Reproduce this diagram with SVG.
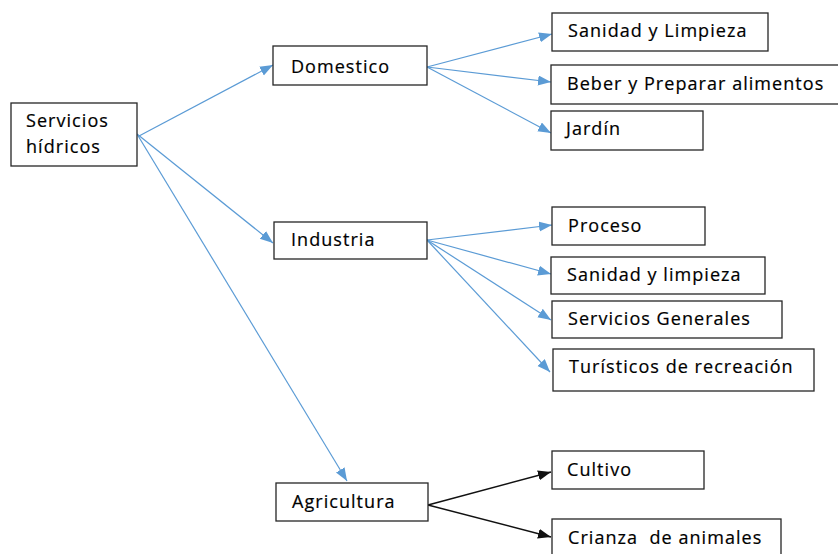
<svg xmlns="http://www.w3.org/2000/svg" width="838" height="554" viewBox="0 0 838 554">
<style>
.box{fill:#fff;stroke:#262626;stroke-width:1.3}
.t{font-family:"Open Sans","Noto Sans",sans-serif;font-size:18px;letter-spacing:1.05px;fill:#000;stroke:#000;stroke-width:0.2}
.blue{stroke:#5B9BD5;stroke-width:1.2;fill:none;marker-end:url(#ab)}
.blk{stroke:#111;stroke-width:1.5;fill:none;marker-end:url(#ak)}
</style>
<defs>
<marker id="ab" markerUnits="userSpaceOnUse" markerWidth="14" markerHeight="12" refX="13" refY="5" orient="auto"><path d="M0,0 L13,5 L0,10 Z" fill="#5B9BD5"/></marker>
<marker id="ak" markerUnits="userSpaceOnUse" markerWidth="14" markerHeight="12" refX="13" refY="5" orient="auto"><path d="M0,0 L13,5 L0,10 Z" fill="#111"/></marker>
</defs>
<rect width="838" height="554" fill="#fff"/>
<g id="connectors">
<line class="blue" x1="139" y1="136" x2="273" y2="65"/>
<line class="blue" x1="137" y1="134" x2="273" y2="243"/>
<line class="blue" x1="137" y1="134" x2="347" y2="481"/>
<line class="blue" x1="427" y1="67" x2="552" y2="34"/>
<line class="blue" x1="427" y1="67" x2="551" y2="82"/>
<line class="blue" x1="427" y1="67" x2="551" y2="133"/>
<line class="blue" x1="427" y1="240" x2="552" y2="225"/>
<line class="blue" x1="427" y1="240" x2="551" y2="274"/>
<line class="blue" x1="427" y1="240" x2="551" y2="320"/>
<line class="blue" x1="427" y1="240" x2="550" y2="372"/>
<line class="blk" x1="428" y1="505" x2="551" y2="472"/>
<line class="blk" x1="428" y1="505" x2="551" y2="537"/>
</g>
<g id="servicios"><rect class="box" x="11" y="103" width="126" height="63"/><text class="t" x="26" y="127">Servicios</text><text class="t" x="26" y="153">hídricos</text></g>
<g id="domestico"><rect class="box" x="273" y="46" width="154" height="39"/><text class="t" x="291" y="73">Domestico</text></g>
<g id="sanidad1"><rect class="box" x="552" y="13" width="216" height="38"/><text class="t" x="568" y="37">Sanidad y Limpieza</text></g>
<g id="beber"><rect class="box" x="551" y="65" width="290" height="39"/><text class="t" x="567" y="90">Beber y Preparar alimentos</text></g>
<g id="jardin"><rect class="box" x="551" y="111" width="152" height="39"/><text class="t" x="566" y="135">Jardín</text></g>
<g id="industria"><rect class="box" x="274" y="222" width="153" height="37"/><text class="t" x="291" y="246">Industria</text></g>
<g id="proceso"><rect class="box" x="552" y="207" width="153" height="38"/><text class="t" x="568" y="232">Proceso</text></g>
<g id="sanidad2"><rect class="box" x="551" y="257" width="214" height="37"/><text class="t" x="567" y="281">Sanidad y limpieza</text></g>
<g id="servgen"><rect class="box" x="552" y="301" width="230" height="37"/><text class="t" x="568" y="325">Servicios Generales</text></g>
<g id="turisticos"><rect class="box" x="553" y="349" width="261" height="42"/><text class="t" x="569" y="373">Turísticos de recreación</text></g>
<g id="agricultura"><rect class="box" x="276" y="483" width="152" height="38"/><text class="t" x="292" y="508">Agricultura</text></g>
<g id="cultivo"><rect class="box" x="552" y="451" width="152" height="38"/><text class="t" x="567" y="476">Cultivo</text></g>
<g id="crianza"><rect class="box" x="552" y="519" width="229" height="40"/><text class="t" x="568" y="544" xml:space="preserve">Crianza  de animales</text></g>
</svg>
